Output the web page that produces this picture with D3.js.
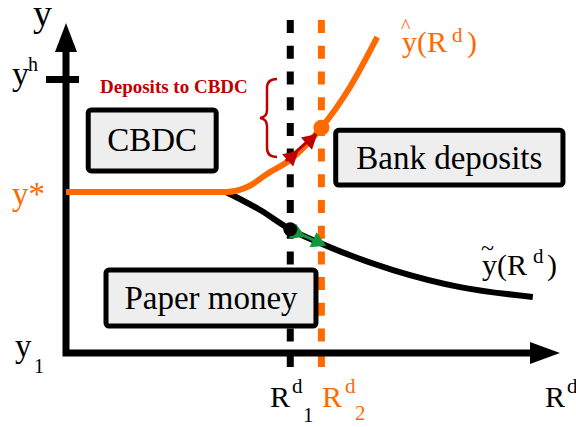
<!DOCTYPE html>
<html>
<head>
<script src="https://cdn.jsdelivr.net/npm/d3@7"></script>
</head>
<body style="margin:0">
<svg id="s" width="576" height="427" font-family="Times New Roman"></svg>
<script>
// curve data (R^d on x, y on y, both in arbitrary 0..10 units)
const yStar = 4.91;
const yHigh = 8.34;
const rd1 = 4.54;
const rd2 = 5.17;
const hatCurve = [[0, 4.91], [3.24, 4.91], [3.72, 5.10], [4.07, 5.46], [4.53, 5.88], [5.17, 6.87], [5.75, 8.11], [6.30, 9.63]];
const tildeCurve = [[3.24, 4.91], [3.93, 4.36], [4.54, 3.77], [5.14, 3.35], [6.62, 2.53], [7.98, 2.01], [9.45, 1.71]];
const redArrows = [[4.56, 5.97], [4.94, 6.48]];
const redDir = [[4.45, 5.86], [5.06, 6.68]];
const greenArrows = [[4.67, 3.66], [5.09, 3.39]];
const greenDir = [[4.54, 3.77], [5.19, 3.32]];
const boxes = [
  { label: "CBDC", x0: 0.45, x1: 3.04, y0: 5.55, y1: 7.41 },
  { label: "Bank deposits", x0: 5.46, x1: 10.06, y0: 5.12, y1: 6.79 },
  { label: "Paper money", x0: 0.81, x1: 5.06, y0: 0.82, y1: 2.53 }
];

const orange = "#ff6a00";
const red = "#c00000";
const green = "#14963c";
const fam = "'Times New Roman'";

const s = d3.select("#s");
const x = d3.scaleLinear().domain([0, 10]).range([66, 560]);
const y = d3.scaleLinear().domain([0, 10]).range([353, 25]);

// dashed verticals
[[rd1, "#000"], [rd2, orange]].forEach(([v, c]) => {
  s.append("line")
    .attr("x1", x(v)).attr("x2", x(v))
    .attr("y1", y(10.15)).attr("y2", y(-0.43))
    .attr("stroke", c).attr("stroke-width", 7)
    .attr("stroke-dasharray", "13,12.7");
});

// boxes
boxes.forEach(b => {
  s.append("rect")
    .attr("x", x(b.x0)).attr("y", y(b.y1))
    .attr("width", x(b.x1) - x(b.x0)).attr("height", y(b.y0) - y(b.y1))
    .attr("rx", 3)
    .attr("fill", "#eeeeee").attr("stroke", "#000").attr("stroke-width", 5);
  s.append("text")
    .attr("x", (x(b.x0) + x(b.x1)) / 2)
    .attr("y", (y(b.y0) + y(b.y1)) / 2 + 11)
    .attr("text-anchor", "middle")
    .attr("font-family", fam)
    .attr("font-size", 33)
    .text(b.label);
});

// axes
s.append("path")
  .attr("d", `M${x(0)},${y(9.2)} L${x(0)},${y(0)} L${x(9.4)},${y(0)}`)
  .attr("fill", "none").attr("stroke", "#000").attr("stroke-width", 7)
  .attr("stroke-linecap", "square");
s.append("path")
  .attr("d", `M${x(0)},23 L${x(0) + 11},52 L${x(0) - 11},52 Z`)
  .attr("fill", "#000");
s.append("path")
  .attr("d", `M560,${y(0)} L530,${y(0) - 11} L530,${y(0) + 11} Z`)
  .attr("fill", "#000");
s.append("line")
  .attr("x1", 46).attr("x2", 79)
  .attr("y1", y(yHigh)).attr("y2", y(yHigh))
  .attr("stroke", "#000").attr("stroke-width", 7);

// curves
const line = d3.line().x(d => x(d[0])).y(d => y(d[1])).curve(d3.curveMonotoneX);
s.append("path").datum(tildeCurve).attr("d", line)
  .attr("fill", "none").attr("stroke", "#000").attr("stroke-width", 6);
s.append("path").datum(hatCurve).attr("d", line)
  .attr("fill", "none").attr("stroke", orange).attr("stroke-width", 6);

// movement arrows
function arrows(pts, dir, color) {
  s.append("line")
    .attr("x1", x(dir[0][0])).attr("y1", y(dir[0][1]))
    .attr("x2", x(dir[1][0])).attr("y2", y(dir[1][1]))
    .attr("stroke", color).attr("stroke-width", 3);
  const ang = Math.atan2(y(dir[1][1]) - y(dir[0][1]), x(dir[1][0]) - x(dir[0][0])) * 180 / Math.PI;
  pts.forEach(p => {
    s.append("path")
      .attr("d", d3.symbol(d3.symbolTriangle, 120)())
      .attr("transform", `translate(${x(p[0])},${y(p[1])}) rotate(${ang + 90})`)
      .attr("fill", color);
  });
}
arrows(redArrows, redDir, red);
arrows(greenArrows, greenDir, green);

s.append("circle").attr("cx", x(rd1)).attr("cy", y(3.77)).attr("r", 7).attr("fill", "#000");
s.append("circle").attr("cx", x(rd2)).attr("cy", y(6.87)).attr("r", 8).attr("fill", orange);

// brace
s.append("path")
  .attr("d", "M277,79 Q267,79 267,88 L267,110 Q267,117 260,118 Q267,119 267,126 L267,148 Q267,157 277,157")
  .attr("fill", "none").attr("stroke", red).attr("stroke-width", 2.5);
s.append("text")
  .attr("x", 100).attr("y", 93)
  .attr("font-family", fam)
  .attr("font-size", 19).attr("font-weight", "bold").attr("fill", red)
  .text("Deposits to CBDC");

// labels
function label(parts, color) {
  parts.forEach(p => {
    s.append("text").attr("x", p[1]).attr("y", p[2])
      .attr("fill", color || "#000")
      .attr("font-family", fam).attr("font-size", p[3]).text(p[0]);
  });
}
label([["y", 33, 26, 38]]);
label([["y", 12, 85, 34], ["h", 28, 71, 20]]);
label([["y*", 12, 205, 33]], orange);
label([["y", 15, 357, 33], ["1", 34, 373, 20]]);
label([["R", 270, 407, 30], ["d", 292, 393, 21], ["1", 303, 422, 21]]);
label([["R", 322, 407, 30], ["d", 345, 393, 21], ["2", 355, 420, 21]], orange);
label([["R", 545, 407, 30], ["d", 567, 393, 21]]);
label([["^", 401, 33, 20], ["y(R", 402, 52, 30], ["d", 452, 42, 21], [")", 467, 52, 30]], orange);
label([["~", 481, 256, 24], ["y(R", 482, 275, 30], ["d", 533, 263, 21], [")", 547, 275, 30]]);
</script>
</body>
</html>
